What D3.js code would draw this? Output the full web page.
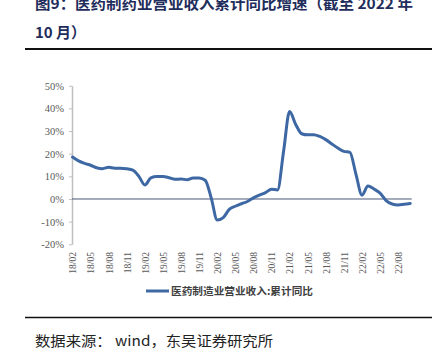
<!DOCTYPE html>
<html><head><meta charset="utf-8">
<script src="https://cdn.jsdelivr.net/npm/d3@7"></script>
<style>body{margin:0;background:#fff;}svg{display:block;}</style>
</head><body>
<script>
const months = ["18/02","18/03","18/04","18/05","18/06","18/07","18/08","18/09","18/10","18/11","18/12",
"19/01","19/02","19/03","19/04","19/05","19/06","19/07","19/08","19/09","19/10","19/11","19/12",
"20/01","20/02","20/03","20/04","20/05","20/06","20/07","20/08","20/09","20/10","20/11","20/12",
"21/01","21/02","21/03","21/04","21/05","21/06","21/07","21/08","21/09","21/10","21/11","21/12",
"22/01","22/02","22/03","22/04","22/05","22/06","22/07","22/08","22/09","22/10"];
const growth = [18.5,16.8,15.7,14.9,13.8,13.4,14.0,13.6,13.6,13.3,12.7,
10.0,6.2,9.3,9.9,9.9,9.4,8.7,8.8,8.5,9.3,9.3,8.3,
0.5,-9.3,-8.2,-4.6,-3.2,-2.1,-1.1,0.5,1.7,2.8,4.3,4.0,
21.0,38.6,33.0,28.8,28.3,28.4,27.6,26.2,24.3,22.5,21.0,20.6,
11.0,1.7,5.7,4.4,2.6,-0.7,-2.2,-2.6,-2.3,-2.0];
const yTicks = [-20,-10,0,10,20,30,40,50];
const seriesName = "医药制造业营业收入:累计同比";
const titleLine1 = "图9：医药制药业营业收入累计同比增速（截至 2022 年";
const titleLine2 = "10 月）";
const sourceText = "数据来源： wind，东吴证券研究所";

const W = 445, H = 359;
const svg = d3.select("body").append("svg").attr("width", W).attr("height", H);

// Title
svg.append("text").attr("x", 35).attr("y", 9)
  .attr("font-family", "'Noto Sans CJK SC', sans-serif").attr("font-weight", "bold")
  .attr("font-size", 15).attr("fill", "#1f2d5c")
  .attr("textLength", 378).attr("lengthAdjust", "spacingAndGlyphs").text(titleLine1);
svg.append("text").attr("x", 35).attr("y", 38)
  .attr("font-family", "'Noto Sans CJK SC', sans-serif").attr("font-weight", "bold")
  .attr("font-size", 15).attr("fill", "#1f2d5c").text(titleLine2);
svg.append("line").attr("x1", 25).attr("x2", 432).attr("y1", 49).attr("y2", 49)
  .attr("stroke", "#111").attr("stroke-width", 2);

// Scales
const x = d3.scalePoint().domain(months).range([72.5, 410.2]);
const y = d3.scaleLinear().domain([-20, 50]).range([244.3, 85.7]);

// Y axis
const yAxis = d3.axisLeft(y).tickValues(yTicks).tickSize(3).tickSizeOuter(0)
  .tickFormat(d => d + "%");
const gy = svg.append("g").attr("transform", "translate(72,0)").call(yAxis);
gy.select(".domain").attr("stroke", "#bfbfbf").attr("stroke-width", 1.5);
gy.selectAll(".tick line").attr("stroke", "#bfbfbf");
gy.selectAll(".tick text").attr("font-family", "'Liberation Serif', serif")
  .attr("font-size", 10.5).attr("fill", "#595959").attr("x", -8);

// X axis labels (every 3 months), placed at bottom
const xLabels = months.filter((m, i) => i % 3 === 0);
const xAxis = d3.axisBottom(x).tickValues(xLabels).tickSize(0);
const gx = svg.append("g").attr("transform", "translate(0,250)").call(xAxis);
gx.select(".domain").remove();
gx.selectAll(".tick text")
  .attr("font-family", "'Liberation Serif', serif").attr("font-size", 9.5).attr("fill", "#595959")
  .attr("transform", "rotate(-90)").attr("text-anchor", "end")
  .attr("x", -2).attr("y", 0).attr("dy", "0.35em");

// Zero line
svg.append("line").attr("x1", 72).attr("x2", 411.7).attr("y1", y(0)).attr("y2", y(0))
  .attr("stroke", "#4a5878").attr("stroke-width", 1);

// Series line
const line = d3.line().x((d, i) => x(months[i])).y(d => y(d)).curve(d3.curveMonotoneX);
svg.append("path").datum(growth).attr("d", line)
  .attr("fill", "none").attr("stroke", "#3d68a3").attr("stroke-width", 3)
  .attr("stroke-linejoin", "round").attr("stroke-linecap", "round");

// Legend
svg.append("line").attr("x1", 146).attr("x2", 169).attr("y1", 291).attr("y2", 291)
  .attr("stroke", "#3d68a3").attr("stroke-width", 3);
svg.append("text").attr("x", 171).attr("y", 295)
  .attr("font-family", "'Noto Sans CJK SC', sans-serif").attr("font-weight", "bold")
  .attr("font-size", 10).attr("fill", "#404040")
  .attr("textLength", 142).attr("lengthAdjust", "spacingAndGlyphs").text(seriesName);

// Bottom rule and source
svg.append("line").attr("x1", 25).attr("x2", 432).attr("y1", 317.5).attr("y2", 317.5)
  .attr("stroke", "#111").attr("stroke-width", 1.5);
svg.append("text").attr("x", 35).attr("y", 346)
  .attr("font-family", "'Noto Sans CJK SC', sans-serif")
  .attr("font-size", 14).attr("fill", "#222")
  .attr("textLength", 238).attr("lengthAdjust", "spacingAndGlyphs").text(sourceText);
</script>
</body></html>
